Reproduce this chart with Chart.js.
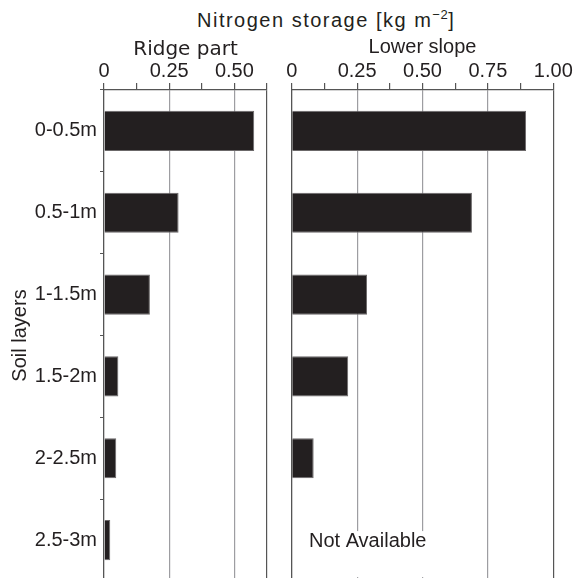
<!DOCTYPE html>
<html>
<head>
<meta charset="utf-8">
<script src="https://cdn.jsdelivr.net/npm/chart.js@4.4.0/dist/chart.umd.min.js"></script>
<style>
  html, body { margin: 0; padding: 0; background: #fff; overflow: hidden; }
  #wrap { position: relative; width: 575px; height: 578px; overflow: hidden; }
  #left-box { position: absolute; left: 0; top: 0; width: 280px; height: 581px; }
  #right-box { position: absolute; left: 280px; top: 0; width: 295px; height: 581px; }
  #main-title {
    position: absolute; left: 197px; top: 9px; letter-spacing: 1.5px;
    font: 20px "Liberation Sans", Arial, sans-serif; color: #231f20; white-space: nowrap;
  }
  #main-title .sup { font-size: 13px; position: relative; top: -8px; letter-spacing: 0.5px; }
</style>
</head>
<body>
<div id="wrap">
  <div id="main-title">Nitrogen storage [kg m<span class="sup">−2</span>]</div>
  <div id="left-box"><canvas id="ridge-chart" width="280" height="581"></canvas></div>
  <div id="right-box"><canvas id="slope-chart" width="295" height="581"></canvas></div>
</div>
<script>
// soil layers (categories)
const layers = ["0-0.5m", "0.5-1m", "1-1.5m", "1.5-2m", "2-2.5m", "2.5-3m"];

// nitrogen storage [kg m-2]
const ridgeValues = [0.576, 0.286, 0.176, 0.055, 0.047, 0.024];
const slopeValues = [0.896, 0.689, 0.288, 0.216, 0.084, null];

// labelled ticks on the top axes
const ridgeTicks = [0, 0.25, 0.5];
const slopeTicks = [0, 0.25, 0.5, 0.75, 1.0];
const ridgeMax = 0.625;
const slopeMax = 1.0;
const minorStep = 0.125;

const naText = "Not Available";
const textColor = "#231f20";
const barColor = "#231f20";
const axisColor = "#555";
const gridGray = "#9d9da1";
const font = { family: "'Liberation Sans', Arial, sans-serif", size: 20 };
const wideFont = { family: "'DejaVu Sans', sans-serif", size: 20 };

function isLabelled(v, list) {
  return list.some(t => Math.abs(t - v) < 1e-6);
}

function tickText(v, list) {
  if (!isLabelled(v, list)) return "";
  return v === 0 ? "0" : v.toFixed(2);
}

function xScale(title, titleFont, titlePad, max, labelled) {
  return {
    position: "top",
    min: 0,
    max: max,
    ticks: {
      stepSize: minorStep,
      autoSkip: false,
      maxRotation: 0,
      font: font,
      color: textColor,
      padding: 0,
      callback: v => tickText(v, labelled)
    },
    grid: {
      tickLength: 7,
      tickColor: axisColor,
      color: ctx => {
        const v = ctx.tick ? ctx.tick.value : 0;
        if (Math.abs(v - max) < 1e-6) return axisColor;
        if (v === 0 || !isLabelled(v, labelled)) return "rgba(0,0,0,0)";
        return gridGray;
      },
      lineWidth: 1.2
    },
    border: { color: axisColor, width: 1.3 },
    title: { display: true, text: title, font: titleFont, color: textColor, padding: titlePad },
    afterFit: s => { s.height = 56; }
  };
}

const notAvailable = {
  id: "notAvailable",
  afterDatasetsDraw(chart) {
    const { ctx, scales } = chart;
    slopeValues.forEach((v, i) => {
      if (v !== null) return;
      const yc = scales.y.getPixelForValue(i);
      const xl = scales.x.getPixelForValue(0.066);
      ctx.save();
      ctx.font = "20px 'Liberation Sans', Arial, sans-serif";
      const w = ctx.measureText(naText).width;
      ctx.fillStyle = "#fff";
      ctx.fillRect(xl - 4, yc - 9, w + 8, 46);
      ctx.fillStyle = textColor;
      ctx.textBaseline = "middle";
      ctx.fillText(naText, xl, yc + 1);
      ctx.restore();
    });
  }
};

const commonOpts = {
  indexAxis: "y",
  responsive: false,
  animation: false,
  plugins: { legend: { display: false }, tooltip: { enabled: false } }
};

function barDataset(values) {
  return {
    data: values,
    backgroundColor: barColor,
    borderColor: "#6b6869",
    borderWidth: 1,
    categoryPercentage: 1,
    barPercentage: 0.49
  };
}

// Ridge part
new Chart(document.getElementById("ridge-chart"), {
  type: "bar",
  data: { labels: layers, datasets: [barDataset(ridgeValues)] },
  options: {
    ...commonOpts,
    layout: { padding: { top: 34, right: 13, left: 0, bottom: 0 } },
    scales: {
      x: xScale("Ridge part", wideFont, { top: 4, bottom: 4 }, ridgeMax, ridgeTicks),
      y: {
        ticks: { font: font, color: textColor, padding: 3 },
        grid: { drawOnChartArea: false, tickLength: 4, color: axisColor, offset: true },
        border: { color: axisColor, width: 1.3 },
        title: { display: true, text: "Soil layers", font: font, color: textColor, padding: { top: 8, bottom: 0 } },
        afterFit: s => { s.width = 104; s.paddingTop = 0; s.paddingBottom = 0; }
      }
    }
  }
});

// Lower slope
new Chart(document.getElementById("slope-chart"), {
  type: "bar",
  data: { labels: layers, datasets: [barDataset(slopeValues)] },
  options: {
    ...commonOpts,
    layout: { padding: { top: 34, right: 21.7, left: 0, bottom: 0 } },
    scales: {
      x: xScale("Lower slope", font, { top: 1, bottom: 7 }, slopeMax, slopeTicks),
      y: {
        ticks: { display: false },
        grid: { display: false },
        border: { color: axisColor, width: 1.3 },
        afterFit: s => { s.width = 11.7; s.paddingTop = 0; s.paddingBottom = 0; }
      }
    }
  },
  plugins: [notAvailable]
});
</script>
</body>
</html>
